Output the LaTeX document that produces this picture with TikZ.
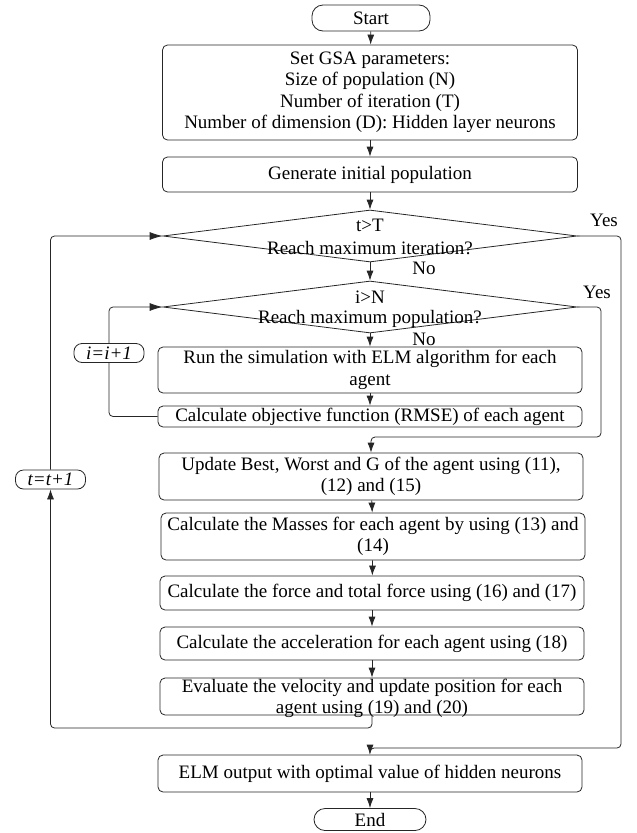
\documentclass[tikz,border=0pt]{standalone}
\usepackage{fontspec}
\setmainfont{Liberation Serif}
\usetikzlibrary{shapes.geometric,arrows.meta}
\tikzset{
  txt/.style={font=\fontsize{19}{21.5}\selectfont},
  box/.style={txt, draw=black!85, line width=0.8pt, rounded corners=5pt, fill=white, align=center, inner sep=0pt, minimum width=424pt},
  term/.style={box, rounded corners=11pt, minimum width=118pt},
  dec/.style={draw=black!85, line width=0.8pt, diamond, inner sep=0pt, minimum width=414pt, minimum height=52pt},
  lbl/.style={txt, inner sep=0pt},
  cnt/.style={box, rounded corners=8pt, minimum width=70pt, minimum height=19pt, font=\fontsize{19}{21.5}\selectfont\itshape},
  arr/.style={-{Latex[length=10pt,width=7pt]}, line width=0.8pt, draw=black!85},
  lp/.style={arr, rounded corners=4pt},
  lpb/.style={-{Latex[length=13pt,width=8pt]}, line width=0.8pt, draw=black!85, rounded corners=4pt}
}
\begin{document}
\begin{tikzpicture}[x=1pt,y=-1pt]
\useasboundingbox (0,0) rectangle (637,833);
% nodes
\node[term, minimum height=26pt] (start) at (371,18) {Start};
\node[box, minimum width=415pt, minimum height=95pt] (gsa) at (370,92.5) {Set GSA parameters:\\Size of population (N)\\Number of iteration (T)\\Number of dimension (D): Hidden layer neurons};
\node[box, minimum width=415pt, minimum height=35pt] (gen) at (370,174.5) {Generate initial population};
\node[dec] (d1) at (370,236) {};
\node[lbl] (d1a) at (370,225) {t>T};
\node[lbl] (d1b) at (370,248) {Reach maximum iteration?};
\node[dec] (d2) at (370,307) {};
\node[lbl] (d2a) at (370,297) {i>N};
\node[lbl] (d2b) at (370,319) {Reach maximum population?};
\node[box, minimum height=46pt] (run) at (370,370) {Run the simulation with ELM algorithm for each\\agent};
\node[box, minimum height=21pt] (calc) at (370,416.5) {Calculate objective function (RMSE) of each agent};
\node[box, minimum height=47pt] (upd) at (371,476.5) {Update Best, Worst and G of the agent using (11),\\(12) and (15)};
\node[box, minimum height=47pt] (mas) at (373,536.5) {Calculate the Masses for each agent by using (13) and\\(14)};
\node[box, minimum height=34pt] (frc) at (372,593) {Calculate the force and total force using (16) and (17)};
\node[box, minimum height=33pt] (acc) at (372,643.5) {Calculate the acceleration for each agent using (18)};
\node[box, minimum height=37pt] (ev) at (372,696.5) {};
\node[lbl, align=center] (evt) at (372,698.5) {Evaluate the velocity and update position for each\\agent using (19) and (20)};
\node[box, minimum height=37pt] (elm) at (370,773.5) {ELM output with optimal value of hidden neurons};
\node[term, minimum width=112pt, minimum height=22pt] (end) at (370,819.5) {End};
\node[cnt] (ii) at (109,353) {i=i+1};
\node[cnt] (tt) at (50.5,479.5) {t=t+1};
% labels
\node[lbl] (y1) at (604,220) {Yes};
\node[lbl] (y2) at (597,292) {Yes};
\node[lbl] (n1) at (424,268) {No};
\node[lbl] (n2) at (424,339) {No};
% straight arrows
\draw[arr] (start) -- (gsa);
\draw[arr] (gsa) -- (gen);
\draw[arr] (gen) -- (d1.north);
\draw[arr] (d1.south) -- (d2.north);
\draw[arr] (d2.south) -- (run);
\draw[arr] (run) -- (calc);
\draw[arr] (upd) -- (mas);
\draw[arr] (mas) -- (frc);
\draw[arr] (frc) -- (acc);
\draw[arr] (acc) -- (ev);
\draw[arr] (elm) -- (end);
% loops
\coordinate (ir1) at (601,307);
\coordinate (ir2) at (601,437);
\coordinate (ir3) at (371,437);
\draw[lp] (d2.east) -- (ir1) -- (ir2) -- (ir3) -- (upd.north);
\coordinate (or1) at (621,236);
\coordinate (or2) at (621,748);
\coordinate (or3) at (370,748);
\draw[lp] (d1.east) -- (or1) -- (or2) -- (or3) -- (elm.north);
\coordinate (il1) at (109,416.5);
\coordinate (il2) at (109,307);
\draw[line width=0.8pt, draw=black!85, rounded corners=4pt] (calc.west) -- (il1) -- (ii.south);
\draw[lpb] (ii.north) -- (il2) -- (d2.west);
\coordinate (ol1) at (372,728);
\coordinate (ol2) at (50.5,728);
\coordinate (ol3) at (50.5,236);
\draw[lp] (ev.south) -- (ol1) -- (ol2) -- (tt.south);
\draw[lpb] (tt.north) -- (ol3) -- (d1.west);
\end{tikzpicture}
\end{document}
